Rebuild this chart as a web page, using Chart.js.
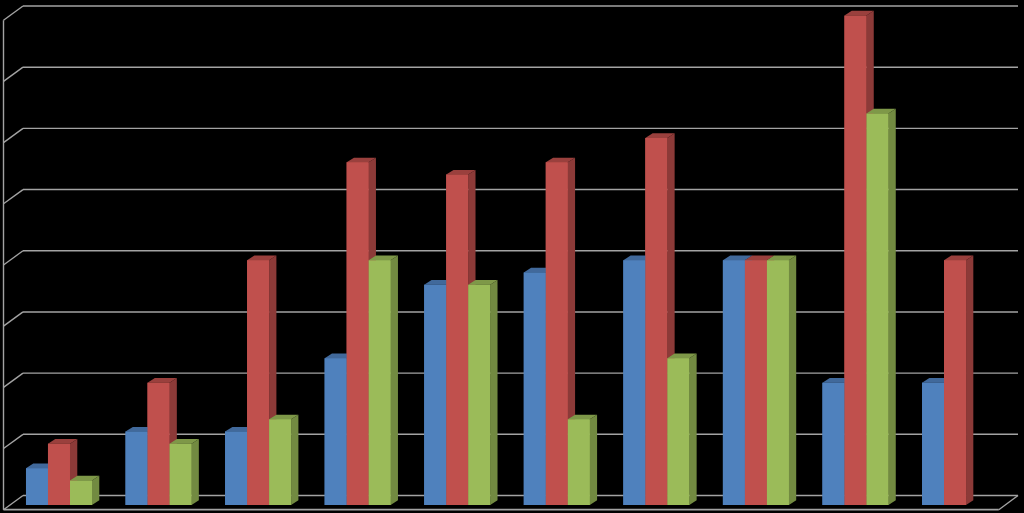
<!DOCTYPE html>
<html lang="en">
<head>
    <meta charset="UTF-8">
    <title>3D clustered columns</title>
    <script src="https://cdn.jsdelivr.net/npm/chart.js"></script>
    <style>
        html, body {margin:0; padding:0; background:#000; overflow:hidden;}
        canvas {display:block;}
    </style>
</head>
<body>
    <canvas id="chart" width="1024" height="513"></canvas>
    <script>
    // the picture has no visible labels, categories are just positions
    const categories = ['1', '2', '3', '4', '5', '6', '7', '8', '9', '10'];
    const blueValues = [3, 6, 6, 12, 18, 19, 20, 20, 10, 10];
    const redValues = [5, 10, 20, 28, 27, 28, 30, 20, 40, 20];
    const greenValues = [2, 5, 7, 20, 18, 7, 12, 20, 32, null];

    const sideColors = {'#4F81BD': ['#3A6291', '#41699B'], '#C0504D': ['#8C3A38', '#9A403D'], '#9BBB59': ['#728A41', '#7E9848']};
    const depth = {x: 7.3, y: 4.7};
    const gridColor = '#A3A3A3';

    function poly(ctx, pts, color) {
        ctx.fillStyle = color;
        ctx.beginPath();
        pts.forEach((p, i) => i ? ctx.lineTo(p[0], p[1]) : ctx.moveTo(p[0], p[1]));
        ctx.closePath();
        ctx.fill();
    }

    function line(ctx, x1, y1, x2, y2) {
        ctx.beginPath();
        ctx.moveTo(x1, y1);
        ctx.lineTo(x2, y2);
        ctx.stroke();
    }

    // back wall, left wall and floor, hung on the y scale ticks
    const wallsPlugin = {
        id: 'walls',
        beforeDatasetsDraw(chart) {
            const {ctx, chartArea: area, scales: {y}} = chart;
            const frontX = area.left - 5.7, backX = area.left + 13.8, backRight = area.right + 13.2;
            const front = v => y.getPixelForValue(v) + 4.7;
            const back = v => y.getPixelForValue(v) - 9.5;
            ctx.save();
            ctx.strokeStyle = gridColor;
            ctx.lineWidth = 1.4;
            y.ticks.forEach(t => {
                line(ctx, frontX, front(t.value), backX, back(t.value));
                line(ctx, backX, back(t.value), backRight, back(t.value));
            });
            line(ctx, frontX, front(y.max), frontX, front(0));
            line(ctx, backRight, back(0), area.right - 6, front(0));
            ctx.lineWidth = 1.8;
            line(ctx, frontX, front(0), area.right - 6, front(0));
            ctx.restore();
        }
    };

    // chart.js paints the first series last, here it has to be left to right
    // so each series gets its side, top and front repainted in dataset order
    const depthPlugin = {
        id: 'depth',
        afterDatasetsDraw(chart) {
            const {ctx} = chart;
            chart.data.datasets.forEach((ds, index) => {
                const [side, top] = sideColors[ds.backgroundColor];
                chart.getDatasetMeta(index).data.forEach((bar, i) => {
                    if (ds.data[i] == null) return;
                    const l = bar.x - bar.width / 2, r = bar.x + bar.width / 2;
                    poly(ctx, [[r, bar.y], [r + depth.x, bar.y - depth.y], [r + depth.x, bar.base - depth.y], [r, bar.base]], side);
                    poly(ctx, [[l, bar.y], [l + depth.x, bar.y - depth.y], [r + depth.x, bar.y - depth.y], [r, bar.y]], top);
                    bar.draw(ctx);
                });
            });
        }
    };

    new Chart(document.getElementById('chart'), {
        type: 'bar',
        data: {
            labels: categories,
            datasets: [
                {data: blueValues, backgroundColor: '#4F81BD'},
                {data: redValues, backgroundColor: '#C0504D'},
                {data: greenValues, backgroundColor: '#9BBB59'}
            ]
        },
        options: {
            responsive: false,
            animation: false,
            layout: {padding: {left: 9.2, right: 19.2, top: 15.5, bottom: 8}},
            datasets: {bar: {categoryPercentage: 0.663, barPercentage: 1, borderWidth: 0}},
            plugins: {legend: {display: false}, tooltip: {enabled: false}},
            scales: {
                x: {display: false},
                y: {display: false, min: 0, max: 40, ticks: {stepSize: 5}}
            }
        },
        plugins: [wallsPlugin, depthPlugin]
    });
    </script>
</body>
</html>
